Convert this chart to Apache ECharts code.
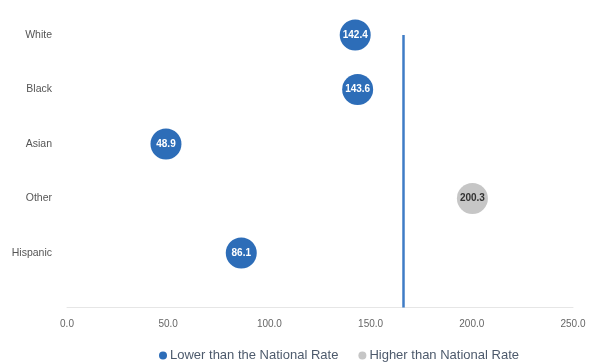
<!DOCTYPE html>
<html>
<head>
<meta charset="utf-8">
<script src="https://cdn.jsdelivr.net/npm/echarts@6/dist/echarts.min.js"></script>
<style>
  html, body { margin: 0; padding: 0; background: #fff; }
  #chart { width: 592px; height: 362px; }
</style>
</head>
<body>
<div id="chart"></div>
<script>
// Rates by group, compared against the national rate
const categories = ['White', 'Black', 'Asian', 'Other', 'Hispanic'];
const rates = [142.4, 143.6, 48.9, 200.3, 86.1];
const nationalRate = 166.0;
const xTicks = [0, 50, 100, 150, 200, 250];

const lowerName = 'Lower than the National Rate';
const higherName = 'Higher than National Rate';

// Row position: first category at the top
const rowOf = i => categories.length - i;

const lowerData = [];
const higherData = [];
rates.forEach((v, i) => {
  const point = [v, rowOf(i)];
  if (v < nationalRate) lowerData.push(point); else higherData.push(point);
});

const chart = echarts.init(document.getElementById('chart'));
chart.setOption({
  animation: false,
  grid: { left: 67, right: 19, top: 7.75, bottom: 54.5 },
  xAxis: {
    type: 'value',
    min: xTicks[0],
    max: xTicks[xTicks.length - 1],
    interval: 50,
    axisLine: { show: true, lineStyle: { color: '#e6e6e6', width: 1 } },
    axisTick: { show: false },
    splitLine: { show: false },
    axisLabel: {
      margin: 12,
      color: '#666',
      fontSize: 10,
      fontFamily: 'Liberation Sans Narrow, Liberation Sans, sans-serif',
      formatter: v => v.toFixed(1)
    }
  },
  yAxis: {
    type: 'value',
    min: 0,
    max: 5.5,
    interval: 1,
    axisLine: { show: false },
    axisTick: { show: false },
    splitLine: { show: false },
    axisLabel: {
      margin: 15,
      color: '#555',
      fontSize: 10.5,
      fontFamily: 'Liberation Sans, sans-serif',
      formatter: v => {
        if (!Number.isInteger(v) || v < 1 || v > categories.length) return '';
        return categories[categories.length - v];
      }
    }
  },
  legend: {
    left: 154,
    top: 344,
    itemWidth: 8,
    itemHeight: 8,
    itemGap: 20,
    icon: 'circle',
    textStyle: {
      color: '#4d5a6c',
      fontSize: 13,
      fontFamily: 'Liberation Sans Narrow, Liberation Sans, sans-serif',
      padding: [0, 0, 0, -2]
    },
    data: [lowerName, higherName]
  },
  series: [
    {
      name: lowerName,
      type: 'scatter',
      symbolSize: 31,
      itemStyle: { color: '#2d6db8', opacity: 1 },
      label: {
        show: true,
        position: 'inside',
        color: '#fff',
        fontSize: 10,
        fontWeight: 'bold',
        fontFamily: 'Liberation Sans, sans-serif',
        formatter: p => p.value[0].toFixed(1)
      },
      data: lowerData,
      markLine: {
        silent: true,
        symbol: 'none',
        label: { show: false },
        lineStyle: { color: '#3f7cc6', width: 2.5, type: 'solid' },
        data: [[
          { coord: [nationalRate, categories.length] },
          { coord: [nationalRate, 0] }
        ]]
      }
    },
    {
      name: higherName,
      type: 'scatter',
      symbolSize: 31,
      itemStyle: { color: '#c6c6c6', opacity: 1 },
      label: {
        show: true,
        position: 'inside',
        color: '#333',
        fontSize: 10,
        fontWeight: 'bold',
        fontFamily: 'Liberation Sans, sans-serif',
        formatter: p => p.value[0].toFixed(1)
      },
      data: higherData
    }
  ]
});
</script>
</body>
</html>
